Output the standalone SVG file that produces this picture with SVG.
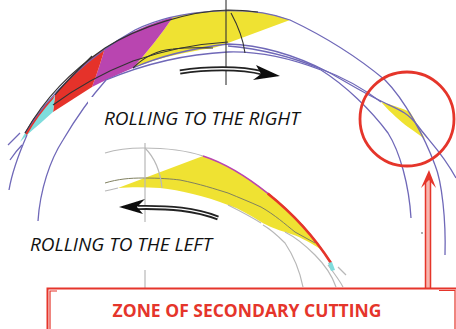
<svg xmlns="http://www.w3.org/2000/svg" width="456" height="329" viewBox="0 0 456 329">
<style>
.b{fill:none;stroke:#6f68b8;stroke-width:1.3}
.k{fill:none;stroke:#333;stroke-width:1.1}
.g{fill:none;stroke:#b8b8b8;stroke-width:1.2}
.gk{fill:none;stroke:#808060;stroke-width:1}
.lb{font-family:"Open Sans","Liberation Sans",sans-serif;font-style:italic;font-size:19px;fill:#111}
.r{fill:none;stroke:#e5352b}
.y{fill:#efe232}
</style>
<defs><filter id="soft" x="-5%" y="-5%" width="110%" height="110%"><feGaussianBlur stdDeviation="0.35"/></filter></defs>
<rect width="456" height="329" fill="#fff"/>
<g id="top-view" filter="url(#soft)">
<path class="y" d="M173 17C195 12 212 10 228 10C250 10 272 13 290 20L228 43C222 45 218 47 213 48C185 52 158 58 133 68C147 52 161 35 173 17Z"/>
<path d="M105 48C126 34 150 23 173 17C161 35 147 52 133 68C119 74 105 80 92 87C97 74 101 61 105 48Z" fill="#b944b0"/>
<path d="M55 95L53 112L92 87C97 74 101 61 105 48C85 61 68 77 55 95Z" fill="#e5332a"/>
<path d="M55 95L53 112C44 120 35 128 27 135L20 142L25 133C33 119 44 106 55 95Z" fill="#7fdcdc"/>
<path d="M25 133C33 117 43 106 55 95L53 99C43 110 34 122 27 135Z" fill="#e5332a"/>
<path class="y" d="M381 102C392 105 402 108 410 112C416 121 420 130 425 139C419 135 414 131 408 127C400 121 392 114 381 102Z"/>
<path class="b" d="M25 133C50 93 90 55 135 30C180 8 250 5 290 20C328 38 361 60 385 80C405 100 425 138 435 165C442 182 446 220 445 255"/>
<path class="b" d="M38 221C40 190 50 160 63 140C76 118 90 98 106 80C125 72 170 55 228 52C261 51 295 60 321 70C345 85 371 110 388 133C400 152 409 185 411 218"/>
<path class="b" d="M133 68C160 56 195 48 228 44C261 45 295 55 328 72C345 81 361 92 385 103C400 110 408 113 418 126C428 140 442 152 456 178"/>
<path class="b" d="M228 46C261 49 295 58 321 69C345 78 368 92 381 102"/>
<path class="b" d="M9 190C12 172 17 158 27 135"/>
<path class="b" d="M10 160C14 154 18 149 22 145"/>
<path class="b" d="M8 145C12 141 16 137 20 133"/>
<path class="k" d="M25 133C45 98 70 72 105 48C140 26 190 11 228 10C240 10 250 11 258 12"/>
<path class="k" d="M53 105C80 85 110 70 133 61C165 50 195 44 228 42"/>
<path class="k" d="M55 95C62 86 70 78 92 56"/>
<path class="k" d="M133 68C145 56 160 50 173 49C190 47 205 48 213 48"/>
<path class="k" d="M226 0V85"/>
<path class="k" d="M231 13C237 24 243 38 245 53"/>
</g>
<rect x="88" y="97" width="205" height="46" fill="#fff"/>
<g id="bottom-view" filter="url(#soft)">
<path class="y" d="M203 156C240 168 296 208 322 250C306 240 298 236 288 233C275 229 268 226 261 222C250 215 240 209 228 205C205 196 180 190 160 188C145 187 130 187 118 188Z"/>
<path class="g" d="M105 153C118 149 131 148 143 148C160 148 185 150 203 156"/>
<path class="g" d="M105 191C110 190 114 189 118 188"/>
<path class="gk" d="M105 183C118 179 130 178 143 178C160 178 172 179 180 180C200 184 215 189 228 193C240 198 250 202 261 207C275 215 285 224 295 232L315 243"/>
<path class="g" d="M228 205C242 212 250 216 261 223"/>
<path class="g" d="M263 225C272 230 280 238 285 243C295 258 300 272 303 287"/>
<path class="g" d="M285 232C297 238 307 247 315 255C326 266 332 275 336 287"/>
<path class="g" d="M328 265C334 273 340 281 343 287"/>
<path class="g" d="M338 267L346 275"/>
<path class="g" d="M145 143V222M145 270V288"/>
<path class="g" d="M145 148C152 155 160 168 162 188"/>
<path d="M203 156C240 168 296 208 331 263" fill="none" stroke="#b944b0" stroke-width="1.5"/>
<path d="M267.750 193.400C290.750 211.750 313.500 235.500 331 263" fill="none" stroke="#e5352b" stroke-width="2.6"/>
<path d="M328 263L332 262L335 270L331 271Z" fill="#7fdcdc"/>
<circle cx="422" cy="233" r="0.9" fill="#888"/>
</g>
<g id="connectors" filter="url(#soft)">
<path d="M180 72C205 68 240 67 263 73" fill="none" stroke="#222" stroke-width="5"/>
<path d="M180 72C205 68 240 67 263 73" fill="none" stroke="#fff" stroke-width="1.3"/>
<path d="M280 76L256 65L261 74L253 80Z" fill="#111"/>
<path d="M218 218C195 209 170 207 138 207.500" fill="none" stroke="#222" stroke-width="5"/>
<path d="M218 218C195 209 170 207 138 207.500" fill="none" stroke="#fff" stroke-width="1.3"/>
<path d="M119 207L145 199L137 207L143 214Z" fill="#111"/>
<rect x="425" y="180" width="6" height="108" fill="#f7b5ae"/>
<path class="r" stroke-width="1.5" d="M425.500 181V288M430.500 181V288"/>
<path d="M429 170L421 188L429 180L436 188Z" fill="#e5352b"/>
</g>
<g id="zone-circle" filter="url(#soft)">
<circle cx="407" cy="119" r="47" fill="none" stroke="#e5352b" stroke-width="2.8"/>
</g>
<g id="label-right"><text class="lb" x="104" y="125">ROLLING TO THE RIGHT</text></g>
<g id="label-left"><text class="lb" x="30" y="251">ROLLING TO THE LEFT</text></g>
<g id="zone-box">
<path class="r" stroke-width="2" d="M47.500 329V288.500H456"/>
<path class="r" stroke-width="1.2" d="M50 329V291H57"/>
<path class="r" stroke-width="1.2" d="M439 290.500H455V329"/>
<text x="247" y="317" text-anchor="middle" font-family="'Open Sans','Liberation Sans',sans-serif" font-weight="700" font-size="17.500" fill="#e5352b">ZONE OF SECONDARY CUTTING</text>
</g>
</svg>
